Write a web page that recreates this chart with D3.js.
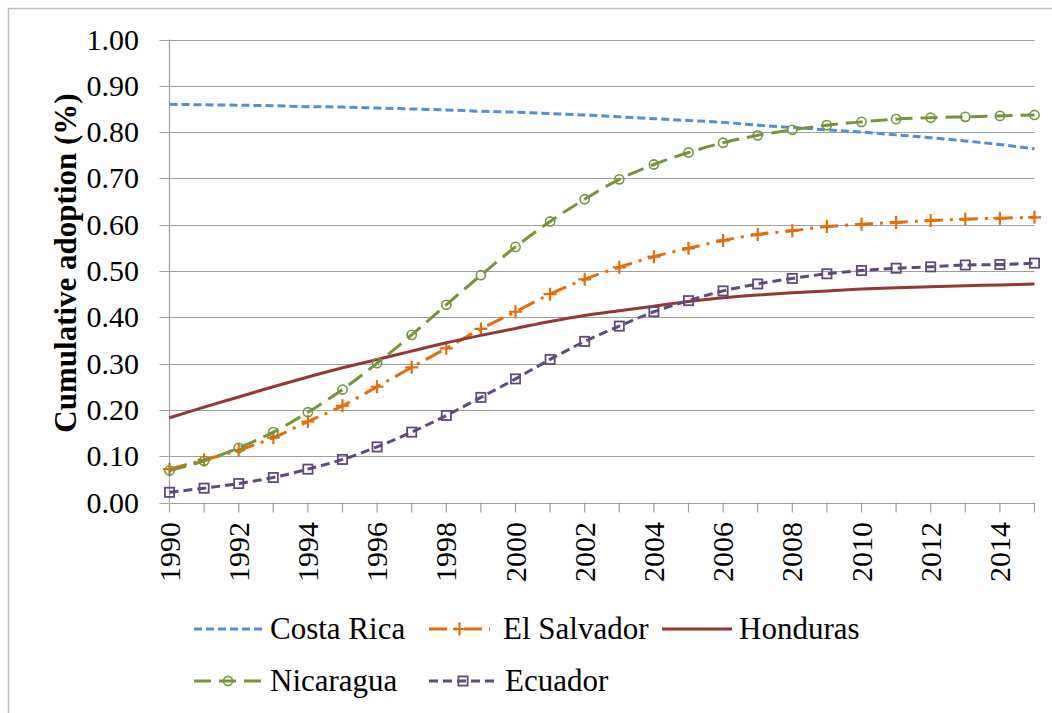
<!DOCTYPE html>
<html>
<head>
<meta charset="utf-8">
<script src="https://cdn.jsdelivr.net/npm/d3@7/dist/d3.min.js"></script>
<style>
  html, body { margin: 0; padding: 0; background: #fff; }
  svg { display: block; }
  #chart text { font-family: "Liberation Serif", "Times New Roman", Times, serif; }
</style>
</head>
<body>
<svg id="chart" width="1052" height="713"></svg>
<script>
const years = d3.range(1990, 2016);
const yTicks = [0, 0.1, 0.2, 0.3, 0.4, 0.5, 0.6, 0.7, 0.8, 0.9, 1.0];
const xTickLabels = [1990, 1992, 1994, 1996, 1998, 2000, 2002, 2004, 2006, 2008, 2010, 2012, 2014];

const costaRica = [0.860, 0.859, 0.858, 0.857, 0.855, 0.854, 0.852, 0.850, 0.848, 0.845,
                   0.843, 0.840, 0.837, 0.833, 0.829, 0.825, 0.821, 0.815, 0.810, 0.805,
                   0.800, 0.794, 0.788, 0.781, 0.773, 0.764];
const elSalvador = [0.072, 0.092, 0.113, 0.140, 0.175, 0.209, 0.250, 0.292, 0.333, 0.375,
                    0.412, 0.450, 0.482, 0.508, 0.531, 0.549, 0.566, 0.579, 0.587, 0.596,
                    0.601, 0.605, 0.609, 0.612, 0.614, 0.616];
const honduras = [0.183, 0.206, 0.228, 0.250, 0.271, 0.291, 0.309, 0.327, 0.345, 0.361,
                  0.376, 0.391, 0.404, 0.414, 0.424, 0.434, 0.442, 0.448, 0.453, 0.457,
                  0.461, 0.464, 0.466, 0.468, 0.470, 0.472];
const nicaragua = [0.069, 0.090, 0.118, 0.152, 0.195, 0.244, 0.301, 0.362, 0.427, 0.491,
                   0.552, 0.607, 0.655, 0.698, 0.730, 0.756, 0.777, 0.793, 0.805, 0.815,
                   0.822, 0.828, 0.831, 0.833, 0.835, 0.837];
const ecuador = [0.022, 0.031, 0.041, 0.054, 0.072, 0.093, 0.120, 0.152, 0.188, 0.227,
                 0.267, 0.309, 0.348, 0.381, 0.412, 0.436, 0.457, 0.472, 0.484, 0.494,
                 0.501, 0.506, 0.509, 0.513, 0.514, 0.517];

const seriesNames = ["Costa Rica", "El Salvador", "Honduras", "Nicaragua", "Ecuador"];
const seriesValues = [costaRica, elSalvador, honduras, nicaragua, ecuador];

const styles = {
  "Costa Rica":  { color: "#558ed5", dash: "8,4",        marker: null },
  "El Salvador": { color: "#e46c0a", dash: "18,7,3,7",   marker: "plus" },
  "Honduras":    { color: "#953735", dash: null,         marker: null },
  "Nicaragua":   { color: "#77933c", dash: "17,8",       marker: "circle" },
  "Ecuador":     { color: "#604a7b", dash: "9,5",        marker: "square" }
};

(function () {
const svg = d3.select("#chart");
const txtStyle = (size, bold) =>
  `font-family:'Liberation Serif','Times New Roman',Times,serif;font-size:${size}px;` + (bold ? "font-weight:bold;" : "");

svg.append("rect").attr("x", 8.5).attr("y", 8.5).attr("width", 1100).attr("height", 800)
  .attr("fill", "none").attr("stroke", "#bfbfbf").attr("stroke-width", 1.5);

const pL = 169.5, pR = 1034.5, pT = 39.5, pB = 502.5;
const x = d3.scaleLinear().domain([1990, 2015]).range([pL, pR]);
const y = d3.scaleLinear().domain([0, 1]).range([pB, pT]);

svg.append("g").selectAll("line").data(yTicks).join("line")
  .attr("x1", pL - 10).attr("x2", pR)
  .attr("y1", d => Math.round(y(d)) + 0.5).attr("y2", d => Math.round(y(d)) + 0.5)
  .attr("stroke", "#a0a0a0").attr("stroke-width", 1.2);

svg.append("line").attr("x1", pL).attr("x2", pL).attr("y1", pT).attr("y2", pB)
  .attr("stroke", "#a0a0a0").attr("stroke-width", 1.2);

svg.append("g").selectAll("line").data(years).join("line")
  .attr("x1", d => x(d)).attr("x2", d => x(d))
  .attr("y1", pB).attr("y2", pB + 10)
  .attr("stroke", "#a0a0a0").attr("stroke-width", 1.2);

svg.append("g").selectAll("text").data(yTicks).join("text")
  .attr("x", 139).attr("y", d => y(d) + 10)
  .attr("text-anchor", "end")
  .attr("style", txtStyle(30)).attr("fill", "#000")
  .text(d => d.toFixed(2));

svg.append("g").selectAll("text").data(xTickLabels).join("text")
  .attr("transform", d => `translate(${x(d) + 10},522) rotate(-90)`)
  .attr("text-anchor", "end")
  .attr("style", txtStyle(30)).attr("fill", "#000")
  .text(d => d);

svg.append("text")
  .attr("transform", "translate(76,263) rotate(-90)")
  .attr("text-anchor", "middle")
  .attr("style", txtStyle(31, true)).attr("fill", "#000")
  .text("Cumulative adoption (%)");

const line = d3.line().x((d, i) => x(years[i])).y(d => y(d)).curve(d3.curveMonotoneX);

function drawMarker(g, type, cx, cy, color) {
  if (type === "circle") {
    g.append("circle").attr("cx", cx).attr("cy", cy).attr("r", 4.6)
      .attr("fill", "none").attr("stroke", color).attr("stroke-width", 1.6);
  } else if (type === "square") {
    g.append("rect").attr("x", cx - 4.6).attr("y", cy - 4.6).attr("width", 9.2).attr("height", 9.2)
      .attr("fill", "none").attr("stroke", color).attr("stroke-width", 1.8);
  } else if (type === "plus") {
    g.append("path").attr("d", `M${cx - 6.5},${cy}H${cx + 6.5}M${cx},${cy - 6.5}V${cy + 6.5}`)
      .attr("stroke", color).attr("stroke-width", 2.2).attr("fill", "none");
  }
}

seriesNames.forEach((name, k) => {
  const st = styles[name];
  const vals = seriesValues[k];
  const g = svg.append("g");
  g.append("path").attr("d", line(vals))
    .attr("fill", "none").attr("stroke", st.color).attr("stroke-width", 3)
    .attr("stroke-dasharray", st.dash);
  if (st.marker) {
    vals.forEach((v, i) => drawMarker(g, st.marker, x(years[i]), y(v), st.color));
  }
});

const legendItems = [
  { name: "Costa Rica",  x1: 194, x2: 262, tx: 270, y: 629 },
  { name: "El Salvador", x1: 429, x2: 490, tx: 503, y: 629 },
  { name: "Honduras",    x1: 662, x2: 732, tx: 739, y: 629 },
  { name: "Nicaragua",   x1: 194, x2: 262, tx: 270, y: 681 },
  { name: "Ecuador",     x1: 429, x2: 497, tx: 505, y: 681 }
];
const lg = svg.append("g");
legendItems.forEach(it => {
  const st = styles[it.name];
  lg.append("line").attr("x1", it.x1).attr("x2", it.x2).attr("y1", it.y).attr("y2", it.y)
    .attr("stroke", st.color).attr("stroke-width", 3).attr("stroke-dasharray", st.dash);
  if (st.marker) drawMarker(lg, st.marker, (it.x1 + it.x2) / 2, it.y, st.color);
  lg.append("text").attr("x", it.tx).attr("y", it.y + 10)
    .attr("style", txtStyle(31)).attr("fill", "#000")
    .text(it.name);
});
})();
</script>
</body>
</html>
